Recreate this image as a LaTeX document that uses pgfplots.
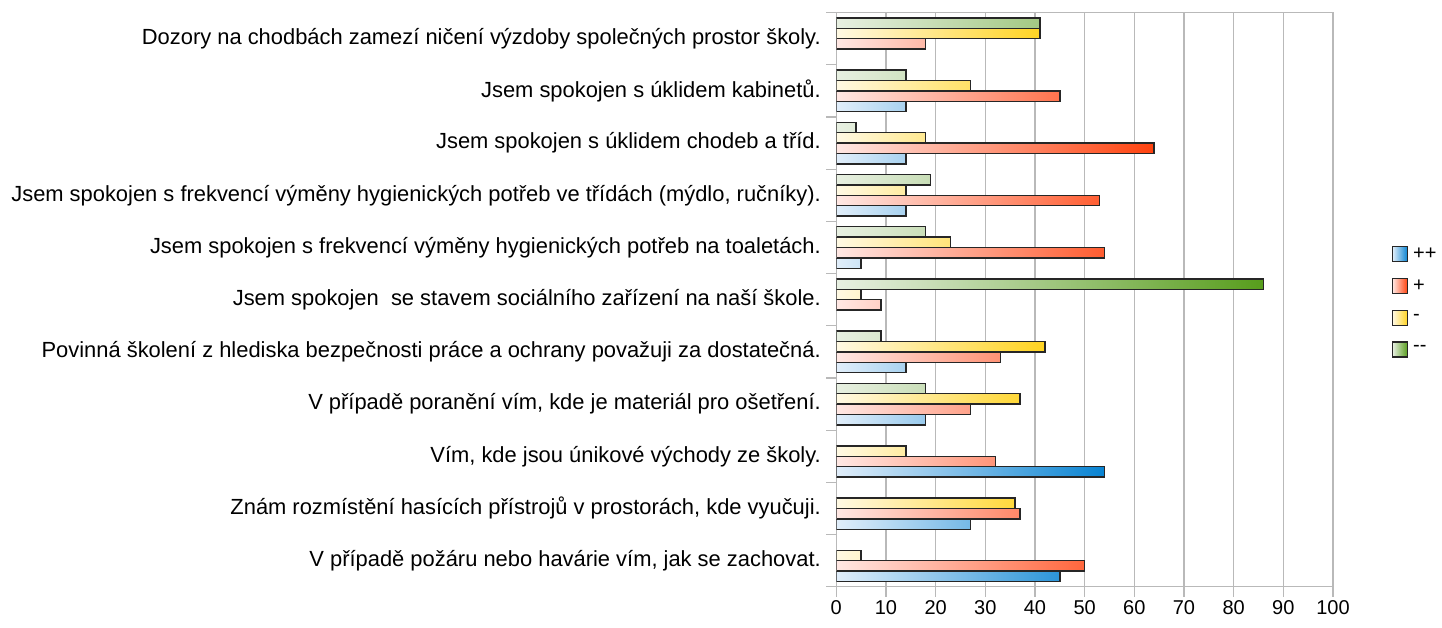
\documentclass[border=0pt]{standalone}
\usepackage{pgfplots}
\pgfplotsset{compat=1.18}
\usepackage{fontspec}
\setmainfont{Liberation Sans}

\definecolor{bR}{RGB}{8,131,210}
\definecolor{bL}{RGB}{225,238,250}
\definecolor{rR}{RGB}{255,66,14}
\definecolor{rL}{RGB}{255,232,228}
\definecolor{yR}{RGB}{255,211,32}
\definecolor{yL}{RGB}{255,249,228}
\definecolor{gR}{RGB}{87,157,28}
\definecolor{gL}{RGB}{232,240,226}
\definecolor{gridc}{RGB}{185,185,185}

\begin{document}
\begin{tikzpicture}
\useasboundingbox (0,0) rectangle (1442pt,628pt);
\begin{axis}[
    at={(836.3pt,41.3pt)}, anchor=south west,
    scale only axis, width=496.7pt, height=574pt,
    xbar, bar width=10.4pt,
    xmin=0, xmax=100, ymin=-0.5, ymax=10.5,
    xtick={0,10,...,100}, xtick pos=bottom, ytick pos=left,
    xmajorgrids, grid style={gridc, line width=1.2pt},
    axis line style={gridc, line width=1.4pt},
    tick style={gridc, line width=1.2pt},
    tick align=outside, major tick length=10pt,
    ytick={-0.5,0.5,...,10.5}, yticklabels={},
    extra y ticks={0,1,...,10},
    extra y tick style={major tick length=0pt, tick style={draw=none},
        yticklabel style={xshift=-12pt}},
    extra y tick labels={
        V případě požáru nebo havárie vím{,} jak se zachovat.,
        Znám rozmístění hasících přístrojů v prostorách{,} kde vyučuji.,
        Vím{,} kde jsou únikové východy ze školy.,
        V případě poranění vím{,} kde je materiál pro ošetření.,
        Povinná školení z hlediska bezpečnosti práce a ochrany považuji za dostatečná.,
        Jsem spokojen\ \ se stavem sociálního zařízení na naší škole.,
        Jsem spokojen s frekvencí výměny hygienických potřeb na toaletách.,
        Jsem spokojen s frekvencí výměny hygienických potřeb ve třídách (mýdlo{,} ručníky).,
        Jsem spokojen s úklidem chodeb a tříd.,
        Jsem spokojen s úklidem kabinetů.,
        Dozory na chodbách zamezí ničení výzdoby společných prostor školy.},
    yticklabel style={font=\fontsize{21.9}{25}\selectfont, text=black},
    xticklabel style={font=\fontsize{20}{24}\selectfont, text=black},
    /pgf/number format/assume math mode=true,
    legend style={draw=none, fill=none, at={(1.112,0.598)}, anchor=north west,
        font=\fontsize{20}{24}\selectfont, row sep=15pt,
        /tikz/every odd column/.style={column sep=3pt}},
    legend cell align=left,
    legend image code/.code={\draw[#1] (0pt,-7.5pt) rectangle (15pt,7.5pt);},
]
\addplot[bar shift=-15.6pt, left color=bL, right color=bR, draw=black!85, line width=1.4pt]
  coordinates {(45,0) (27,1) (54,2) (18,3) (14,4) (5,6) (14,7) (14,8) (14,9)};
\addplot[bar shift=-5.2pt, left color=rL, right color=rR, draw=black!85, line width=1.4pt]
  coordinates {(50,0) (37,1) (32,2) (27,3) (33,4) (9,5) (54,6) (53,7) (64,8) (45,9) (18,10)};
\addplot[bar shift=5.2pt, left color=yL, right color=yR, draw=black!85, line width=1.4pt]
  coordinates {(5,0) (36,1) (14,2) (37,3) (42,4) (5,5) (23,6) (14,7) (18,8) (27,9) (41,10)};
\addplot[bar shift=15.6pt, left color=gL, right color=gR, draw=black!85, line width=1.4pt]
  coordinates {(18,3) (9,4) (86,5) (18,6) (19,7) (4,8) (14,9) (41,10)};
\legend{++,+,-,\mbox{-}\mbox{-}}
\end{axis}
\end{tikzpicture}
\end{document}
